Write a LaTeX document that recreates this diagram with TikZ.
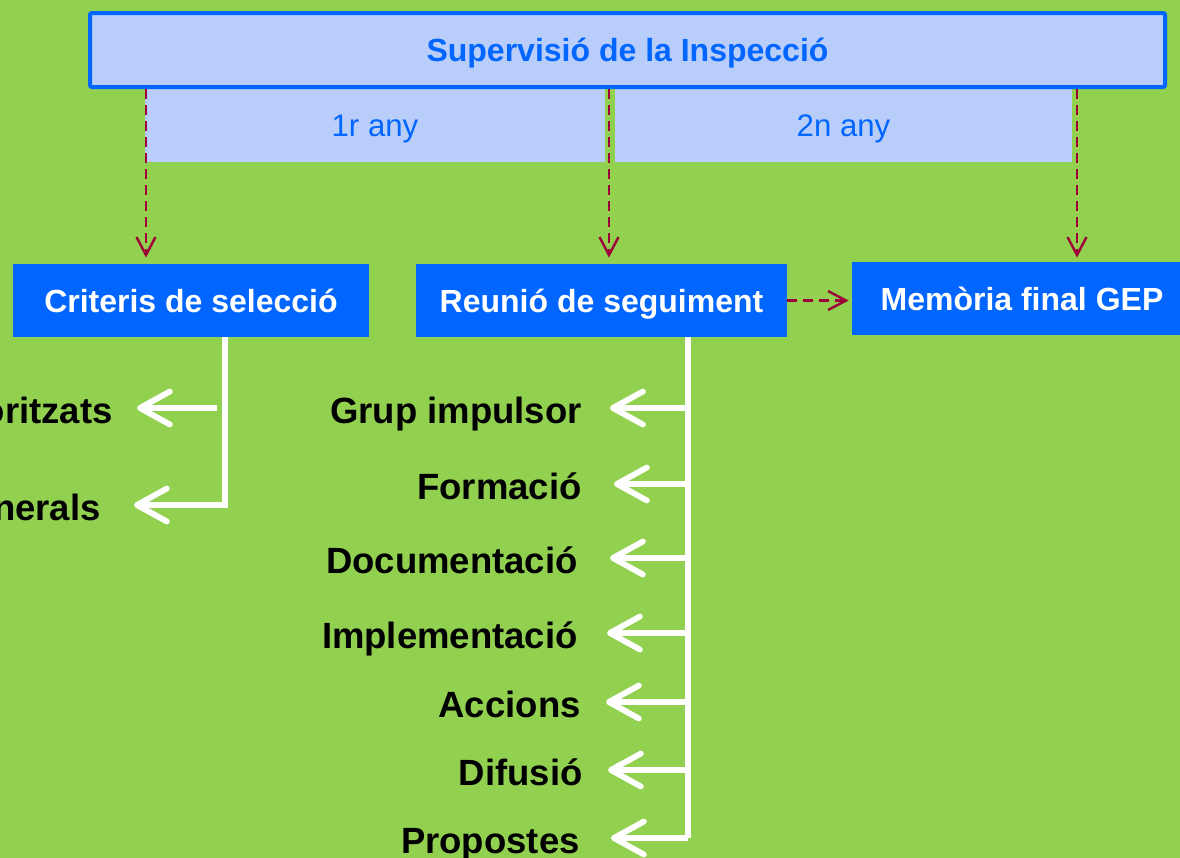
\documentclass[tikz,border=0pt]{standalone}
\usepackage{fontspec}
\setmainfont{Liberation Sans}
\usetikzlibrary{arrows.meta}
\definecolor{bg}{RGB}{146,208,80}
\definecolor{lblue}{RGB}{185,205,250}
\definecolor{bblue}{RGB}{0,102,255}
\definecolor{dred}{RGB}{158,0,57}
\tikzset{
  box/.style={fill=bblue, text=white, font=\bfseries\fontsize{16}{19}\selectfont,
    minimum height=36.5pt, inner sep=0pt, text height=11.5pt, text depth=0pt},
  band/.style={fill=lblue, text=bblue, font=\fontsize{15.6}{19}\selectfont,
    minimum height=37pt, inner sep=0pt, text height=11.2pt, text depth=0pt},
  lab/.style={font=\bfseries\fontsize{18.25}{22}\selectfont, text=black, anchor=east,
    inner sep=0pt, text height=13.1pt, text depth=0pt},
  darr/.style={draw=dred, line width=1.2pt, dash pattern=on 5pt off 3pt,
    -{Straight Barb[length=9pt,width=9.5pt]}, shorten >=2pt},
  wline/.style={draw=white, line width=2.9pt, line join=miter},
  warr/.style={wline, -{Straight Barb[length=15pt,width=16.5pt,round]}},
}
\begin{document}
\begin{tikzpicture}[x=0.5pt,y=-0.5pt]
\useasboundingbox (0,0) rectangle (1180,858);
\clip (0,0) rectangle (1180,858);
\fill[bg] (0,0) rectangle (1180,858);

% bands
\node[band, minimum width=230pt] (b1) at (375,125) {1r any};
\node[band, minimum width=228.5pt] (b2) at (843.5,125) {2n any};

% top box
\node[draw=bblue, line width=2pt, fill=lblue, rounded corners=1pt,
  minimum width=537.5pt, minimum height=37pt, inner sep=0pt,
  text=bblue, font=\bfseries\fontsize{16}{19}\selectfont,
  text height=11.5pt, text depth=0pt] (top) at (627.5,50) {Supervisió de la Inspecció};

% main boxes
\node[box, minimum width=178pt] (crit) at (191,300.5) {Criteris de selecció};
\node[box, minimum width=185.5pt] (reu) at (601.5,300.5) {Reunió de seguiment};
\node[box, minimum width=170pt] (mem) at (1022,298.5) {Memòria final GEP};

% dashed arrows
\coordinate (s1) at (146,89);
\coordinate (s2) at (609,89);
\coordinate (s3) at (1077,89);
\draw[darr, shorten >=3pt] (s1) -- (s1 |- crit.north);
\draw[darr, shorten >=3pt] (s2) -- (s2 |- reu.north);
\draw[darr] (s3) -- (s3 |- mem.north);
\draw[darr, shorten >=1.5pt] (reu.east) -- (reu.east -| mem.west);

% left labels
\node[lab] (p1) at (113,410) {prioritzats};
\node[lab] (p2) at (101,507) {generals};

% right labels
\node[lab] (l1) at (582,410) {Grup impulsor};
\node[lab] (l2) at (582,486) {Formació};
\node[lab] (l3) at (578,560) {Documentació};
\node[lab] (l4) at (578,635) {Implementació};
\node[lab] (l5) at (581,704) {Accions};
\node[lab] (l6) at (583,772) {Difusió};
\node[lab] (l7) at (580,840) {Propostes};

% left tree
\coordinate (ct) at (225,337);
\draw[warr] (ct |- crit.south) -- ([yshift=1pt]ct |- p2.east) -- ([xshift=16.5pt,yshift=1pt]p2.east);
\draw[warr] ([xshift=-4pt,yshift=1pt]ct |- p1.east) -- ([xshift=12pt,yshift=1pt]p1.east);

% right tree
\coordinate (rt) at (688,337);
\draw[wline] (rt |- reu.south) -- ([yshift=1pt]rt |- l7.east);
\draw[warr] ([yshift=1pt]rt |- l1.east) -- ([xshift=14pt,yshift=1pt]l1.east);
\draw[warr] ([yshift=1pt]rt |- l2.east) -- ([xshift=16pt,yshift=1pt]l2.east);
\draw[warr] ([yshift=1pt]rt |- l3.east) -- ([xshift=16pt,yshift=1pt]l3.east);
\draw[warr] ([yshift=1pt]rt |- l4.east) -- ([xshift=14.5pt,yshift=1pt]l4.east);
\draw[warr] ([yshift=1pt]rt |- l5.east) -- ([xshift=12.5pt,yshift=1pt]l5.east);
\draw[warr] ([yshift=1pt]rt |- l6.east) -- ([xshift=12.5pt,yshift=1pt]l6.east);
\draw[warr] ([yshift=1pt]rt |- l7.east) -- ([xshift=15.5pt,yshift=1pt]l7.east);
\end{tikzpicture}
\end{document}
